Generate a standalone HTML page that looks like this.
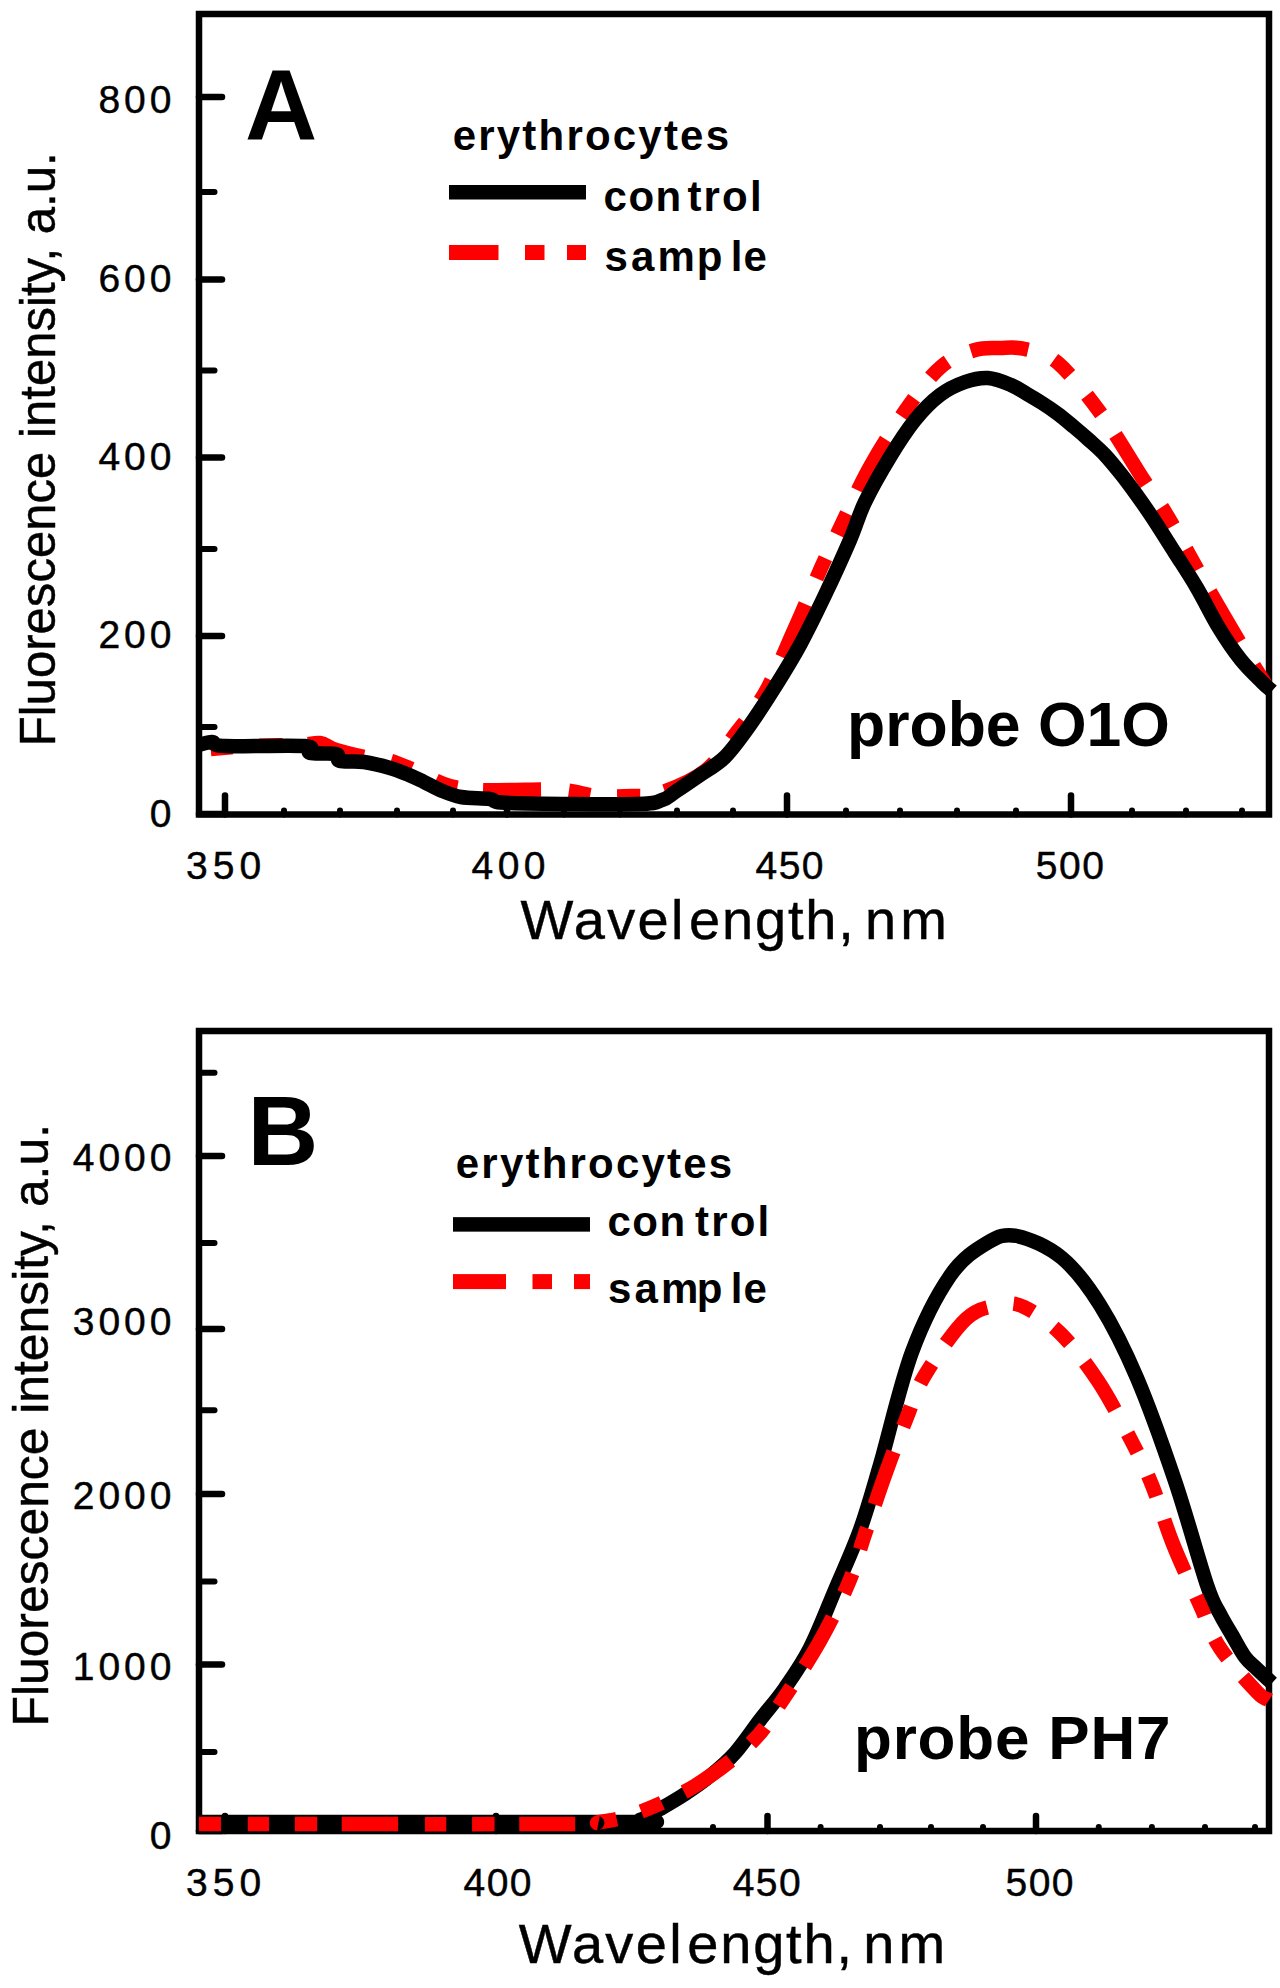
<!DOCTYPE html>
<html><head><meta charset="utf-8"><style>
html,body{margin:0;padding:0;background:#fff;}
body{width:1280px;height:1988px;overflow:hidden;position:relative;}
svg{position:absolute;left:0;top:0;}
text{font-family:"Liberation Sans",sans-serif;fill:#000;}
.rg{stroke:#000;stroke-width:0.45px;}
.bd{stroke:#000;stroke-width:0.5px;}
</style></head><body>
<svg width="1280" height="1988" viewBox="0 0 1280 1988">
<rect x="0" y="0" width="1280" height="1988" fill="#fff"/>

<rect x="199" y="14" width="1070" height="800.5" fill="none" stroke="#000" stroke-width="6.5"/>
<line x1="199" y1="814" x2="222" y2="814" stroke="#000" stroke-width="6.5" stroke-linecap="round"/>
<line x1="199" y1="636" x2="222" y2="636" stroke="#000" stroke-width="6.5" stroke-linecap="round"/>
<line x1="199" y1="457.5" x2="222" y2="457.5" stroke="#000" stroke-width="6.5" stroke-linecap="round"/>
<line x1="199" y1="279.4" x2="222" y2="279.4" stroke="#000" stroke-width="6.5" stroke-linecap="round"/>
<line x1="199" y1="97" x2="222" y2="97" stroke="#000" stroke-width="6.5" stroke-linecap="round"/>
<line x1="199" y1="727" x2="214.5" y2="727" stroke="#000" stroke-width="6" stroke-linecap="round"/>
<line x1="199" y1="549" x2="214.5" y2="549" stroke="#000" stroke-width="6" stroke-linecap="round"/>
<line x1="199" y1="370.6" x2="214.5" y2="370.6" stroke="#000" stroke-width="6" stroke-linecap="round"/>
<line x1="199" y1="192" x2="214.5" y2="192" stroke="#000" stroke-width="6" stroke-linecap="round"/>
<line x1="225" y1="814.5" x2="225" y2="795.5" stroke="#000" stroke-width="6.5" stroke-linecap="round"/>
<line x1="507" y1="814.5" x2="507" y2="795.5" stroke="#000" stroke-width="6.5" stroke-linecap="round"/>
<line x1="787" y1="814.5" x2="787" y2="795.5" stroke="#000" stroke-width="6.5" stroke-linecap="round"/>
<line x1="1071" y1="814.5" x2="1071" y2="795.5" stroke="#000" stroke-width="6.5" stroke-linecap="round"/>
<line x1="284" y1="814.5" x2="284" y2="810.5" stroke="#000" stroke-width="6" stroke-linecap="round"/>
<line x1="340" y1="814.5" x2="340" y2="810.5" stroke="#000" stroke-width="6" stroke-linecap="round"/>
<line x1="397" y1="814.5" x2="397" y2="810.5" stroke="#000" stroke-width="6" stroke-linecap="round"/>
<line x1="453" y1="814.5" x2="453" y2="810.5" stroke="#000" stroke-width="6" stroke-linecap="round"/>
<line x1="564" y1="814.5" x2="564" y2="810.5" stroke="#000" stroke-width="6" stroke-linecap="round"/>
<line x1="620" y1="814.5" x2="620" y2="810.5" stroke="#000" stroke-width="6" stroke-linecap="round"/>
<line x1="677" y1="814.5" x2="677" y2="810.5" stroke="#000" stroke-width="6" stroke-linecap="round"/>
<line x1="733" y1="814.5" x2="733" y2="810.5" stroke="#000" stroke-width="6" stroke-linecap="round"/>
<line x1="846" y1="814.5" x2="846" y2="810.5" stroke="#000" stroke-width="6" stroke-linecap="round"/>
<line x1="900" y1="814.5" x2="900" y2="810.5" stroke="#000" stroke-width="6" stroke-linecap="round"/>
<line x1="957" y1="814.5" x2="957" y2="810.5" stroke="#000" stroke-width="6" stroke-linecap="round"/>
<line x1="1016" y1="814.5" x2="1016" y2="810.5" stroke="#000" stroke-width="6" stroke-linecap="round"/>
<line x1="1132" y1="814.5" x2="1132" y2="810.5" stroke="#000" stroke-width="6" stroke-linecap="round"/>
<line x1="1186" y1="814.5" x2="1186" y2="810.5" stroke="#000" stroke-width="6" stroke-linecap="round"/>
<line x1="1242" y1="814.5" x2="1242" y2="810.5" stroke="#000" stroke-width="6" stroke-linecap="round"/>
<path d="M199,750 C207.5,749.3 233.2,746.8 250,746 C266.8,745.2 288.3,745.5 300,745 C311.7,744.5 314.0,742.2 320,743 C326.0,743.8 327.8,747.5 336,750 C344.2,752.5 360.3,756.3 369,758 C377.7,759.7 381.3,758.3 388,760 C394.7,761.7 402.0,765.0 409,768 C416.0,771.0 423.2,775.0 430,778 C436.8,781.0 442.0,784.0 450,786 C458.0,788.0 468.0,789.3 478,790 C488.0,790.7 496.0,790.0 510,790 C524.0,790.0 547.5,789.0 562,790 C576.5,791.0 585.3,795.0 597,796 C608.7,797.0 621.5,796.5 632,796 C642.5,795.5 647.8,797.2 660,793 C672.2,788.8 692.2,781.2 705,771 C717.8,760.8 726.8,745.3 737,732 C747.2,718.7 756.3,708.3 766,691 C775.7,673.7 785.8,648.5 795,628 C804.2,607.5 813.5,584.7 821,568 C828.5,551.3 831.7,545.2 840,528 C848.3,510.8 859.3,485.7 871,465 C882.7,444.3 898.2,420.5 910,404 C921.8,387.5 931.2,375.0 942,366 C952.8,357.0 965.3,353.0 975,350 C984.7,347.0 991.7,348.2 1000,348 C1008.3,347.8 1015.3,346.5 1025,349 C1034.7,351.5 1045.2,352.0 1058,363 C1070.8,374.0 1087.8,395.7 1102,415 C1116.2,434.3 1132.0,462.0 1143,479 C1154.0,496.0 1157.7,499.7 1168,517 C1178.3,534.3 1193.0,562.0 1205,583 C1217.0,604.0 1229.3,625.2 1240,643 C1250.7,660.8 1264.2,682.2 1269,690" fill="none" stroke="#f00" stroke-width="14.5" stroke-linejoin="round" stroke-dasharray="58.00 27.84 22.04 26.68 23.20 25.52" stroke-dashoffset="74"/>
<path d="M199,745 C201.2,744.5 207.7,741.8 212,742 C216.3,742.2 209.5,745.3 225,746 C240.5,746.7 290.8,744.8 305,746 C319.2,747.2 304.8,751.7 310,753 C315.2,754.3 331.0,752.7 336,754 C341.0,755.3 335.3,759.7 340,761 C344.7,762.3 355.7,760.8 364,762 C372.3,763.2 382.5,765.8 390,768 C397.5,770.2 403.3,772.7 409,775 C414.7,777.3 418.8,779.5 424,782 C429.2,784.5 433.8,787.5 440,790 C446.2,792.5 452.7,795.5 461,797 C469.3,798.5 481.8,798.0 490,799 C498.2,800.0 485.7,802.2 510,803 C534.3,803.8 610.7,804.5 636,804 C661.3,803.5 655.5,802.0 662,800 C668.5,798.0 668.7,796.2 675,792 C681.3,787.8 691.7,780.8 700,775 C708.3,769.2 716.7,765.3 725,757 C733.3,748.7 741.7,736.7 750,725 C758.3,713.3 766.7,700.3 775,687 C783.3,673.7 791.7,660.3 800,645 C808.3,629.7 816.7,612.5 825,595 C833.3,577.5 843.3,555.5 850,540 C856.7,524.5 858.3,515.8 865,502 C871.7,488.2 881.7,470.7 890,457 C898.3,443.3 906.7,430.3 915,420 C923.3,409.7 931.7,401.3 940,395 C948.3,388.7 957.0,384.8 965,382 C973.0,379.2 980.3,377.5 988,378 C995.7,378.5 1004.5,382.3 1011,385 C1017.5,387.7 1021.8,391.0 1027,394 C1032.2,397.0 1036.8,399.7 1042,403 C1047.2,406.3 1052.7,410.0 1058,414 C1063.3,418.0 1068.8,422.7 1074,427 C1079.2,431.3 1083.8,435.3 1089,440 C1094.2,444.7 1099.7,449.3 1105,455 C1110.3,460.7 1115.8,467.5 1121,474 C1126.2,480.5 1130.8,486.8 1136,494 C1141.2,501.2 1145.5,507.2 1152,517 C1158.5,526.8 1167.5,541.2 1175,553 C1182.5,564.8 1189.7,575.5 1197,588 C1204.3,600.5 1211.7,616.0 1219,628 C1226.3,640.0 1233.8,651.0 1241,660 C1248.2,669.0 1256.8,676.8 1262,682 C1267.2,687.2 1270.3,689.5 1272,691" fill="none" stroke="#000" stroke-width="14.5" stroke-linejoin="round"/>
<text x="175.5" y="826.5" font-size="39" letter-spacing="4" text-anchor="end" class="rg">0</text>
<text x="175.5" y="647.5" font-size="39" letter-spacing="4" text-anchor="end" class="rg">200</text>
<text x="175.5" y="470" font-size="39" letter-spacing="4" text-anchor="end" class="rg">400</text>
<text x="175.5" y="291.5" font-size="39" letter-spacing="4" text-anchor="end" class="rg">600</text>
<text x="175.5" y="113" font-size="39" letter-spacing="4" text-anchor="end" class="rg">800</text>
<text x="226.15" y="879" font-size="39" letter-spacing="5" text-anchor="middle" class="rg">350</text>
<text x="510.75" y="879" font-size="39" letter-spacing="4.5" text-anchor="middle" class="rg">400</text>
<text x="790.25" y="879" font-size="39" letter-spacing="1.5" text-anchor="middle" class="rg">450</text>
<text x="1070.65" y="879" font-size="39" letter-spacing="1.5" text-anchor="middle" class="rg">500</text>
<rect x="199" y="1031" width="1070" height="800" fill="none" stroke="#000" stroke-width="6.5"/>
<line x1="199" y1="1831" x2="222" y2="1831" stroke="#000" stroke-width="6.5" stroke-linecap="round"/>
<line x1="199" y1="1664.4" x2="222" y2="1664.4" stroke="#000" stroke-width="6.5" stroke-linecap="round"/>
<line x1="199" y1="1494" x2="222" y2="1494" stroke="#000" stroke-width="6.5" stroke-linecap="round"/>
<line x1="199" y1="1329" x2="222" y2="1329" stroke="#000" stroke-width="6.5" stroke-linecap="round"/>
<line x1="199" y1="1156" x2="222" y2="1156" stroke="#000" stroke-width="6.5" stroke-linecap="round"/>
<line x1="199" y1="1751.9" x2="214.5" y2="1751.9" stroke="#000" stroke-width="6" stroke-linecap="round"/>
<line x1="199" y1="1581.6" x2="214.5" y2="1581.6" stroke="#000" stroke-width="6" stroke-linecap="round"/>
<line x1="199" y1="1410.3" x2="214.5" y2="1410.3" stroke="#000" stroke-width="6" stroke-linecap="round"/>
<line x1="199" y1="1243" x2="214.5" y2="1243" stroke="#000" stroke-width="6" stroke-linecap="round"/>
<line x1="199" y1="1072.8" x2="214.5" y2="1072.8" stroke="#000" stroke-width="6" stroke-linecap="round"/>
<line x1="225" y1="1831" x2="225" y2="1816" stroke="#000" stroke-width="6.5" stroke-linecap="round"/>
<line x1="496" y1="1831" x2="496" y2="1816" stroke="#000" stroke-width="6.5" stroke-linecap="round"/>
<line x1="767.5" y1="1831" x2="767.5" y2="1816" stroke="#000" stroke-width="6.5" stroke-linecap="round"/>
<line x1="1036" y1="1831" x2="1036" y2="1816" stroke="#000" stroke-width="6.5" stroke-linecap="round"/>
<line x1="278" y1="1831" x2="278" y2="1827" stroke="#000" stroke-width="6" stroke-linecap="round"/>
<line x1="333" y1="1831" x2="333" y2="1827" stroke="#000" stroke-width="6" stroke-linecap="round"/>
<line x1="387" y1="1831" x2="387" y2="1827" stroke="#000" stroke-width="6" stroke-linecap="round"/>
<line x1="441" y1="1831" x2="441" y2="1827" stroke="#000" stroke-width="6" stroke-linecap="round"/>
<line x1="550" y1="1831" x2="550" y2="1827" stroke="#000" stroke-width="6" stroke-linecap="round"/>
<line x1="604" y1="1831" x2="604" y2="1827" stroke="#000" stroke-width="6" stroke-linecap="round"/>
<line x1="658" y1="1831" x2="658" y2="1827" stroke="#000" stroke-width="6" stroke-linecap="round"/>
<line x1="713" y1="1831" x2="713" y2="1827" stroke="#000" stroke-width="6" stroke-linecap="round"/>
<line x1="820.6" y1="1831" x2="820.6" y2="1827" stroke="#000" stroke-width="6" stroke-linecap="round"/>
<line x1="880" y1="1831" x2="880" y2="1827" stroke="#000" stroke-width="6" stroke-linecap="round"/>
<line x1="931" y1="1831" x2="931" y2="1827" stroke="#000" stroke-width="6" stroke-linecap="round"/>
<line x1="983" y1="1831" x2="983" y2="1827" stroke="#000" stroke-width="6" stroke-linecap="round"/>
<line x1="1098.75" y1="1831" x2="1098.75" y2="1827" stroke="#000" stroke-width="6" stroke-linecap="round"/>
<line x1="1151.9" y1="1831" x2="1151.9" y2="1827" stroke="#000" stroke-width="6" stroke-linecap="round"/>
<line x1="1205" y1="1831" x2="1205" y2="1827" stroke="#000" stroke-width="6" stroke-linecap="round"/>
<line x1="1255" y1="1831" x2="1255" y2="1827" stroke="#000" stroke-width="6" stroke-linecap="round"/>
<path d="M199,1822 C269.2,1822.0 546.5,1822.3 620,1822 C693.5,1821.7 633.3,1822.2 640,1820 C646.7,1817.8 652.5,1813.3 660,1809 C667.5,1804.7 676.7,1799.5 685,1794 C693.3,1788.5 701.7,1782.8 710,1776 C718.3,1769.2 726.7,1762.3 735,1753 C743.3,1743.7 751.7,1730.8 760,1720 C768.3,1709.2 776.7,1700.0 785,1688 C793.3,1676.0 801.7,1664.3 810,1648 C818.3,1631.7 826.7,1609.7 835,1590 C843.3,1570.3 852.5,1550.8 860,1530 C867.5,1509.2 871.3,1494.7 880,1465 C888.7,1435.3 900.3,1383.5 912,1352 C923.7,1320.5 937.5,1294.2 950,1276 C962.5,1257.8 975.8,1249.7 987,1243 C998.2,1236.3 1004.5,1233.5 1017,1236 C1029.5,1238.5 1048.2,1246.5 1062,1258 C1075.8,1269.5 1087.5,1285.0 1100,1305 C1112.5,1325.0 1124.5,1348.7 1137,1378 C1149.5,1407.3 1163.3,1446.5 1175,1481 C1186.7,1515.5 1199.5,1562.8 1207,1585 C1214.5,1607.2 1215.8,1605.7 1220,1614 C1224.2,1622.3 1227.8,1627.8 1232,1635 C1236.2,1642.2 1240.8,1651.3 1245,1657 C1249.2,1662.7 1252.5,1664.7 1257,1669 C1261.5,1673.3 1269.5,1680.7 1272,1683" fill="none" stroke="#000" stroke-width="14.5" stroke-linejoin="round"/>
<path d="M199,1824 C259.2,1824.0 493.2,1824.3 560,1824 C626.8,1823.7 586.7,1824.0 600,1822 C613.3,1820.0 623.7,1818.3 640,1812 C656.3,1805.7 679.3,1795.7 698,1784 C716.7,1772.3 738.0,1755.8 752,1742 C766.0,1728.2 770.7,1717.8 782,1701 C793.3,1684.2 808.8,1660.8 820,1641 C831.2,1621.2 841.7,1599.3 849,1582 C856.3,1564.7 858.0,1554.8 864,1537 C870.0,1519.2 877.8,1495.0 885,1475 C892.2,1455.0 900.3,1433.7 907,1417 C913.7,1400.3 915.2,1391.3 925,1375 C934.8,1358.7 953.5,1330.7 966,1319 C978.5,1307.3 990.3,1307.0 1000,1305 C1009.7,1303.0 1013.8,1302.2 1024,1307 C1034.2,1311.8 1048.7,1321.7 1061,1334 C1073.3,1346.3 1086.3,1363.3 1098,1381 C1109.7,1398.7 1122.0,1422.7 1131,1440 C1140.0,1457.3 1145.0,1467.7 1152,1485 C1159.0,1502.3 1165.0,1524.0 1173,1544 C1181.0,1564.0 1192.2,1587.7 1200,1605 C1207.8,1622.3 1210.5,1633.5 1220,1648 C1229.5,1662.5 1248.8,1683.3 1257,1692 C1265.2,1700.7 1267.0,1698.7 1269,1700" fill="none" stroke="#f00" stroke-width="14.5" stroke-linejoin="round" stroke-dasharray="56.00 26.88 21.28 25.76 22.40 24.64" stroke-dashoffset="34"/>
<text x="175.5" y="1848.5" font-size="39" letter-spacing="4" text-anchor="end" class="rg">0</text>
<text x="175.5" y="1680" font-size="39" letter-spacing="4" text-anchor="end" class="rg">1000</text>
<text x="175.5" y="1509" font-size="39" letter-spacing="4" text-anchor="end" class="rg">2000</text>
<text x="175.5" y="1335" font-size="39" letter-spacing="4" text-anchor="end" class="rg">3000</text>
<text x="175.5" y="1171" font-size="39" letter-spacing="4" text-anchor="end" class="rg">4000</text>
<text x="226.1" y="1896" font-size="39" letter-spacing="5" text-anchor="middle" class="rg">350</text>
<text x="498.25" y="1896" font-size="39" letter-spacing="1.5" text-anchor="middle" class="rg">400</text>
<text x="767.45" y="1896" font-size="39" letter-spacing="1.5" text-anchor="middle" class="rg">450</text>
<text x="1040.25" y="1896" font-size="39" letter-spacing="1.5" text-anchor="middle" class="rg">500</text>
<text x="245" y="140" font-size="100" font-weight="bold">A</text>
<text x="247.5" y="1165" font-size="98" font-weight="bold">B</text>
<text x="452.7" y="149.5" font-size="42" font-weight="bold" letter-spacing="2.2">erythrocytes</text>
<rect x="449" y="185.0" width="137" height="14.5" fill="#000"/>
<text x="603.6" y="211" font-size="42" font-weight="bold" letter-spacing="1.5">con</text>
<text x="687.4" y="211" font-size="42" font-weight="bold" letter-spacing="2.2">trol</text>
<rect x="449" y="245.0" width="49.5" height="15" fill="#f00"/>
<rect x="525" y="245.0" width="19.5" height="15" fill="#f00"/>
<rect x="567" y="245.0" width="19" height="15" fill="#f00"/>
<text x="604.4" y="271.25" font-size="42" font-weight="bold" letter-spacing="3.2">sam</text>
<text x="696.8" y="271.25" font-size="42" font-weight="bold">p</text>
<text x="730.75" y="271.25" font-size="42" font-weight="bold" letter-spacing="1">le</text>
<text x="455.8" y="1178" font-size="42" font-weight="bold" letter-spacing="2.2">erythrocytes</text>
<rect x="453" y="1217.15" width="137" height="14.5" fill="#000"/>
<text x="607.5" y="1236" font-size="42" font-weight="bold" letter-spacing="1.5">con</text>
<text x="695" y="1236" font-size="42" font-weight="bold" letter-spacing="2.2">trol</text>
<rect x="453" y="1274.1" width="53" height="15" fill="#f00"/>
<rect x="532.5" y="1274.1" width="19.5" height="15" fill="#f00"/>
<rect x="574" y="1274.1" width="16" height="15" fill="#f00"/>
<text x="608" y="1303" font-size="42" font-weight="bold" letter-spacing="3.2">sam</text>
<text x="696.8" y="1303" font-size="42" font-weight="bold">p</text>
<text x="730.75" y="1303" font-size="42" font-weight="bold" letter-spacing="1">le</text>
<text x="847" y="746" font-size="62.5" font-weight="bold">probe O1O</text>
<text x="854" y="1759" font-size="62" font-weight="bold" letter-spacing="0.8">probe PH7</text>
<text x="520.6" y="939" font-size="56" letter-spacing="2.35" class="rg">Wavel</text>
<text x="689.1" y="939" font-size="56" letter-spacing="1.8" class="rg">ength,</text>
<text x="865.1" y="939" font-size="56" letter-spacing="4" class="rg">nm</text>
<text x="518.75" y="1963" font-size="56" letter-spacing="2.35" class="rg">Wavel</text>
<text x="687.25" y="1963" font-size="56" letter-spacing="1.8" class="rg">ength,</text>
<text x="863.25" y="1963" font-size="56" letter-spacing="4" class="rg">nm</text>
<text transform="translate(55,746.3) rotate(-90)" x="0" y="0" font-size="49.1" class="rg">Fluorescence intensity, a.u.</text>
<text transform="translate(48,1726.5) rotate(-90)" x="0" y="0" font-size="49.8" class="rg">Fluorescence intensity, a.u.</text>
</svg>
</body></html>
